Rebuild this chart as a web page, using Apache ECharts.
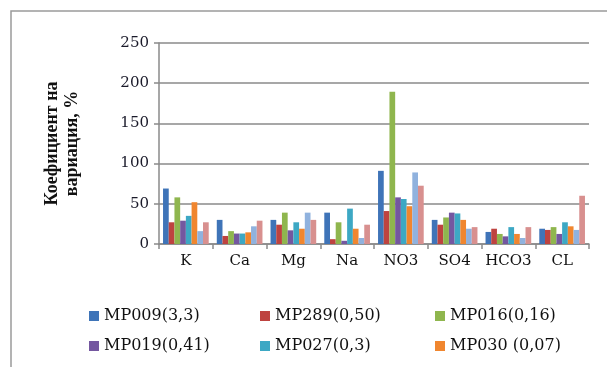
<!DOCTYPE html>
<html><head><meta charset="utf-8">
<script src="https://cdn.jsdelivr.net/npm/echarts@6/dist/echarts.min.js"></script>
<style>html,body{margin:0;padding:0;background:#fff}#c{width:607px;height:367px}</style>
</head><body><div id="c"></div>
<script>
const categories = ['K', 'Ca', 'Mg', 'Na', 'NO3', 'SO4', 'HCO3', 'CL'];
const seriesNames = ['MP009(3,3)', 'MP289(0,50)', 'MP016(0,16)', 'MP019(0,41)', 'MP027(0,3)', 'MP030 (0,07)', 'Series 7', 'Series 8'];
const s1 = [69, 30, 30, 39, 91, 30, 15, 19];
const s2 = [27, 10, 24, 6, 41, 24, 19, 17.5];
const s3 = [58, 16, 39, 27, 189.5, 33, 12.5, 21];
const s4 = [29, 13, 17, 4, 58, 39, 9.5, 12.5];
const s5 = [35, 13, 27, 44, 56, 38, 21, 27];
const s6 = [52, 14.5, 19, 19, 47, 30, 12.5, 22];
const s7 = [16, 22, 39, 7.5, 89, 19, 7.5, 17.5];
const s8 = [27, 29, 30, 24, 72.5, 21, 21, 60];
const yTicks = [0, 50, 100, 150, 200, 250];
const values = [s1, s2, s3, s4, s5, s6, s7, s8];
const colors = ['#3F74B8', '#BE4340', '#8FB64E', '#7457A0', '#3DA8C4', '#F0862F', '#90B2DE', '#D8908F'];

const chart = echarts.init(document.getElementById('c'));
const serif = 'DejaVu Serif';
const legendText = {fontFamily: serif, fontSize: 16, color: '#111'};
function legend(left, names) {
  return {orient: 'vertical', left: left, top: 303, itemWidth: 10, itemHeight: 10, itemGap: 14,
    icon: 'rect', data: names, textStyle: legendText, selectedMode: false};
}
chart.setOption({
  animation: false,
  color: colors,
  graphic: [{type: 'rect', shape: {x: 11, y: 11, width: 700, height: 500},
    style: {fill: 'none', stroke: '#9b9b9b', lineWidth: 1.5}, silent: true}],
  grid: {left: 159, right: 18, top: 43, bottom: 123},
  legend: [
    legend(84, [seriesNames[0], seriesNames[3]]),
    legend(255, [seriesNames[1], seriesNames[4]]),
    legend(430, [seriesNames[2], seriesNames[5]])
  ],
  xAxis: {
    type: 'category', data: categories,
    axisLine: {lineStyle: {color: '#8a8a8a', width: 1.5}},
    axisTick: {show: true, length: 5, lineStyle: {color: '#8a8a8a', width: 1.5}},
    axisLabel: {fontFamily: serif, fontSize: 15, color: '#111', margin: 10, interval: 0}
  },
  yAxis: {
    type: 'value', min: 0, max: 250, interval: 50,
    name: 'Коефициент на\nвариация, %', nameLocation: 'middle', nameGap: 77, nameRotate: 90,
    nameTextStyle: {fontFamily: 'Liberation Serif', fontWeight: 'bold', fontSize: 18, lineHeight: 20, color: '#111'},
    axisLine: {show: true, lineStyle: {color: '#8a8a8a', width: 1.5}},
    axisTick: {show: true, length: 5, lineStyle: {color: '#8a8a8a', width: 1.5}},
    splitLine: {lineStyle: {color: '#8a8a8a', width: 1.5}},
    axisLabel: {fontFamily: serif, fontSize: 15, color: '#1a1a2a', margin: 10,
      formatter: v => yTicks.includes(v) ? String(v) : ''}
  },
  series: values.map((d, i) => ({
    name: seriesNames[i], type: 'bar', data: d,
    barGap: '0%', barCategoryGap: '15%'
  }))
});
</script></body></html>
